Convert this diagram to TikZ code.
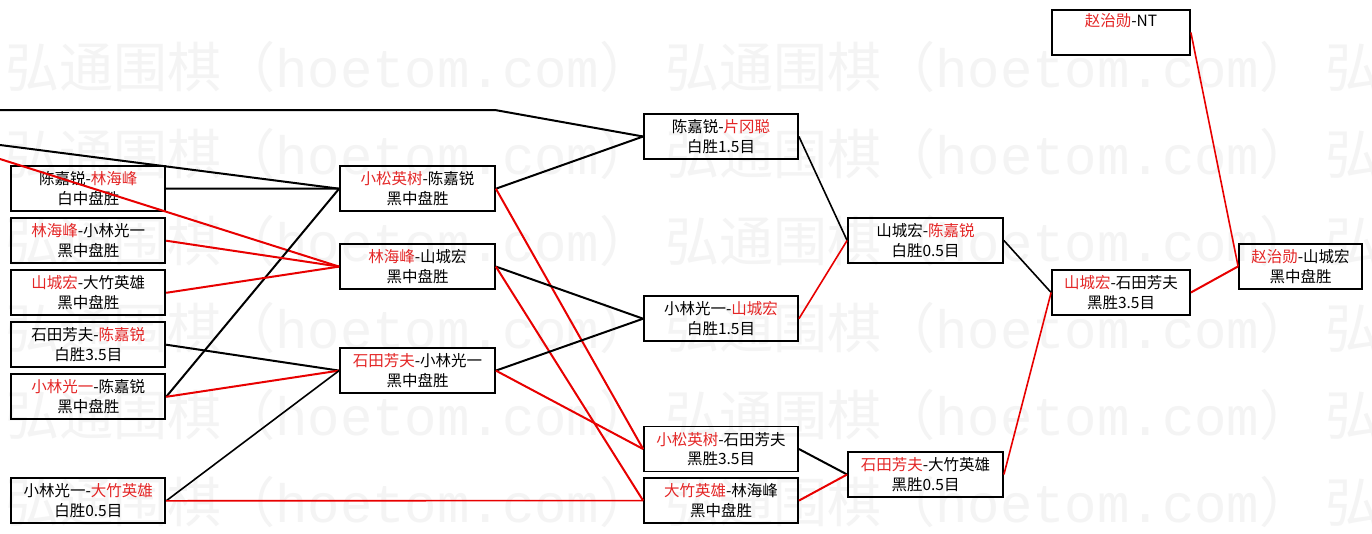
\documentclass[tikz,border=0pt]{standalone}
\usepackage{fontspec}
\setmainfont{Noto Sans CJK SC}
\newfontfamily\wmmono{Liberation Mono}
\definecolor{lred}{RGB}{232,0,0}
\definecolor{tred}{RGB}{228,38,38}
\definecolor{wmgray}{RGB}{244,244,244}
\newcommand{\rd}[1]{\textcolor{tred}{#1}}
\begin{document}
\begin{tikzpicture}[x=1pt,y=-1pt,
  every node/.style={font=\fontsize{15.5pt}{19.5pt}\selectfont},
  box/.style={draw=black,line width=1.8pt,inner sep=0pt,align=center,minimum height=45pt},
  bl/.style={draw=black,line width=2pt},
  rl/.style={draw=lred,line width=2pt},
  thin/.style={line width=1.6pt},
  wm/.style={anchor=west,inner sep=0pt,text=wmgray,font=\fontsize{54pt}{54pt}\selectfont}]
\fill[white] (0,0) rectangle (1372,533);
\useasboundingbox (0,0) rectangle (1372,533);
% watermark
\begin{scope}
\clip (0,0) rectangle (1372,533);
\foreach \yy in {67,154,241,328,415,502}{
  \foreach \xx in {5,665,1325}{
    \node[wm] at (\xx,\yy) {弘通围棋（{\wmmono hoetom.com}）};
  }
}
\end{scope}
% column A
\node[box,minimum width=154pt] (A1) at (88.3,188.5) {陈嘉锐-\rd{林海峰}\\白中盘胜};
\node[box,minimum width=154pt] (A2) at (88.3,240.7) {\rd{林海峰}-小林光一\\黑中盘胜};
\node[box,minimum width=154pt] (A3) at (88.3,292.8) {\rd{山城宏}-大竹英雄\\黑中盘胜};
\node[box,minimum width=154pt] (A4) at (88.3,344.7) {石田芳夫-\rd{陈嘉锐}\\白胜3.5目};
\node[box,minimum width=154pt] (A5) at (88.3,396.8) {\rd{小林光一}-陈嘉锐\\黑中盘胜};
\node[box,minimum width=154pt] (A6) at (88.3,500.8) {小林光一-\rd{大竹英雄}\\白胜0.5目};
% column B
\node[box,minimum width=155pt] (B1) at (417.5,188.7) {\rd{小松英树}-陈嘉锐\\黑中盘胜};
\node[box,minimum width=155pt] (B2) at (417.5,266.6) {\rd{林海峰}-山城宏\\黑中盘胜};
\node[box,minimum width=155pt] (B3) at (417.5,370.6) {\rd{石田芳夫}-小林光一\\黑中盘胜};
% column C
\node[box,minimum width=154pt] (C1) at (721,136.5) {陈嘉锐-\rd{片冈聪}\\白胜1.5目};
\node[box,minimum width=154pt] (C2) at (721,318.7) {小林光一-\rd{山城宏}\\白胜1.5目};
\node[box,minimum width=154pt] (C3) at (721,449) {\rd{小松英树}-石田芳夫\\黑胜3.5目};
\node[box,minimum width=154pt] (C4) at (721,500.6) {\rd{大竹英雄}-林海峰\\黑中盘胜};
% column D
\node[box,minimum width=155pt] (D1) at (925.5,240.5) {山城宏-\rd{陈嘉锐}\\白胜0.5目};
\node[box,minimum width=155pt] (D2) at (925.5,474.5) {\rd{石田芳夫}-大竹英雄\\黑胜0.5目};
% column E
\node[box,minimum width=138pt] (E0) at (1121,32.5) {\rd{赵治勋}-NT\\\strut};
\node[box,minimum width=138pt] (E1) at (1121,292.5) {\rd{山城宏}-石田芳夫\\黑胜3.5目};
% final
\node[box,minimum width=123pt] (F) at (1300.5,266.4) {\rd{赵治勋}-山城宏\\黑中盘胜};
% off-picture ends
\coordinate (o1) at (0,110);
\coordinate (o1b) at (495,110);
\coordinate (o2) at (0,145);
\coordinate (o3) at (0,159);
% connectors
\draw[bl] (o1) -- (o1b) -- (C1.west);
\draw[bl] (o2) -- (B1.west);
\draw[rl] (o3) -- (B2.west);
\draw[bl] (A1.east) -- (B1.west);
\draw[bl] (A5.east) -- (B1.west);
\draw[rl] (A2.east) -- (B2.west);
\draw[rl] (A3.east) -- (B2.west);
\draw[bl] (A4.east) -- (B3.west);
\draw[rl] (A5.east) -- (B3.west);
\draw[bl,thin] (A6.east) -- (B3.west);
\draw[rl,thin] (A6.east) -- (C4.west);
\draw[bl] (B1.east) -- (C1.west);
\draw[rl] (B1.east) -- (C3.west);
\draw[bl] (B2.east) -- (C2.west);
\draw[rl] (B2.east) -- (C4.west);
\draw[bl] (B3.east) -- (C2.west);
\draw[rl] (B3.east) -- (C3.west);
\draw[bl,thin] (C1.east) -- (D1.west);
\draw[rl,thin] (C2.east) -- (D1.west);
\draw[bl] (C3.east) -- (D2.west);
\draw[rl] (C4.east) -- (D2.west);
\draw[bl,thin] (D1.east) -- (E1.west);
\draw[rl,thin] (D2.east) -- (E1.west);
\draw[rl,thin] (E0.east) -- (F.west);
\draw[rl] (E1.east) -- (F.west);
\end{tikzpicture}
\end{document}
